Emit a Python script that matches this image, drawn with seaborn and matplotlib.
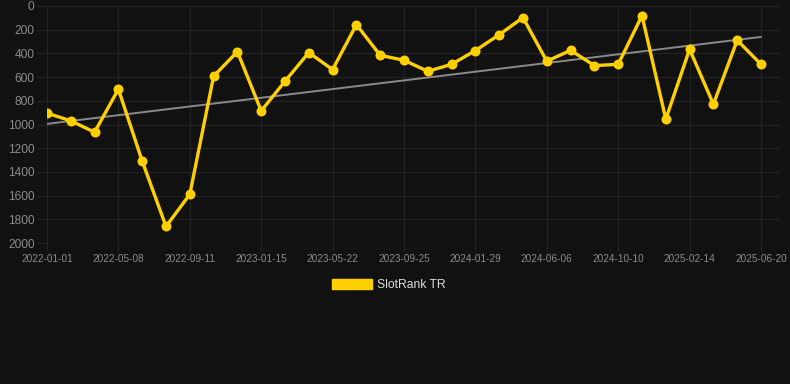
import numpy as np
import pandas as pd
import matplotlib
matplotlib.use("Agg")
import matplotlib.pyplot as plt
from matplotlib.patches import Patch
import seaborn as sns

dates = [
    "2022-01-01", "2022-02-12", "2022-03-26", "2022-05-08", "2022-06-19", "2022-07-31",
    "2022-09-11", "2022-10-23", "2022-12-04", "2023-01-15", "2023-02-26", "2023-04-09",
    "2023-05-22", "2023-07-03", "2023-08-14", "2023-09-25", "2023-11-06", "2023-12-18",
    "2024-01-29", "2024-03-12", "2024-04-24", "2024-06-06", "2024-07-18", "2024-08-29",
    "2024-10-10", "2024-11-21", "2025-01-02", "2025-02-14", "2025-03-28", "2025-05-09",
    "2025-06-20",
]
ranks = [
    904, 969, 1065, 702, 1309, 1860, 1590, 593, 385, 885, 635, 393,
    537, 157, 416, 458, 551, 492, 376, 242, 98, 466, 374, 503,
    492, 81, 955, 365, 829, 289, 492,
]
tick_labels = ["2022-01-01", "2022-05-08", "2022-09-11", "2023-01-15", "2023-05-22",
               "2023-09-25", "2024-01-29", "2024-06-06", "2024-10-10", "2025-02-14",
               "2025-06-20"]
y_ticks = [0, 200, 400, 600, 800, 1000, 1200, 1400, 1600, 1800, 2000]
series_name = "SlotRank TR"

BG = "#111111"
GRID = "#242424"
YELLOW = "#FFD000"
TXT = "#8c8c8c"

sns.set_theme(style="dark")
plt.rcParams["font.family"] = ["Liberation Sans", "DejaVu Sans"]

fig = plt.figure(figsize=(7.9, 3.84), dpi=100, facecolor=BG)
ax = fig.add_axes([47 / 790, 1 - 243 / 384, 733 / 790, 237 / 384])
ax.set_facecolor(BG)

df = pd.DataFrame({"date": dates, "rank": ranks})
df["pos"] = np.arange(len(df))

# trend line (linear regression)
coef = np.polyfit(df["pos"], df["rank"], 1)
trend = np.polyval(coef, df["pos"])
sns.lineplot(x=df["pos"], y=trend, ax=ax, color="#8a8a8a", linewidth=1.4, zorder=2)

sns.lineplot(data=df, x="pos", y="rank", ax=ax, color=YELLOW, linewidth=2.4,
             marker="o", markersize=7.2, markeredgewidth=0, zorder=3)

ax.set_xlim(0, 733 / 23.8)
ax.set_ylim(2000, 0)
ax.set_yticks(y_ticks)
ax.set_yticklabels([str(v) for v in y_ticks])
tick_pos = [dates.index(t) for t in tick_labels]
ax.set_xticks(tick_pos)
ax.set_xticklabels(tick_labels)
ax.set_xlabel("")
ax.set_ylabel("")

ax.grid(True, color=GRID, linewidth=0.8)
ax.tick_params(axis="y", colors=GRID, labelcolor=TXT, labelsize=8.6, length=7, width=0.8, pad=2, left=True)
ax.tick_params(axis="x", colors=GRID, labelcolor=TXT, labelsize=7.2, length=6, width=0.8, pad=2, bottom=True)
for s in ax.spines.values():
    s.set_visible(False)

handle = Patch(facecolor=YELLOW, edgecolor=YELLOW)
leg = fig.legend([handle], [series_name], loc="center", bbox_to_anchor=(0.5 - 6 / 790, 1 - 285 / 384),
                 frameon=False, fontsize=8.7, handlelength=3.3, handleheight=0.9,
                 handletextpad=0.4, labelcolor="#dddddd")

fig.savefig("out.png", dpi=100, facecolor=BG)
